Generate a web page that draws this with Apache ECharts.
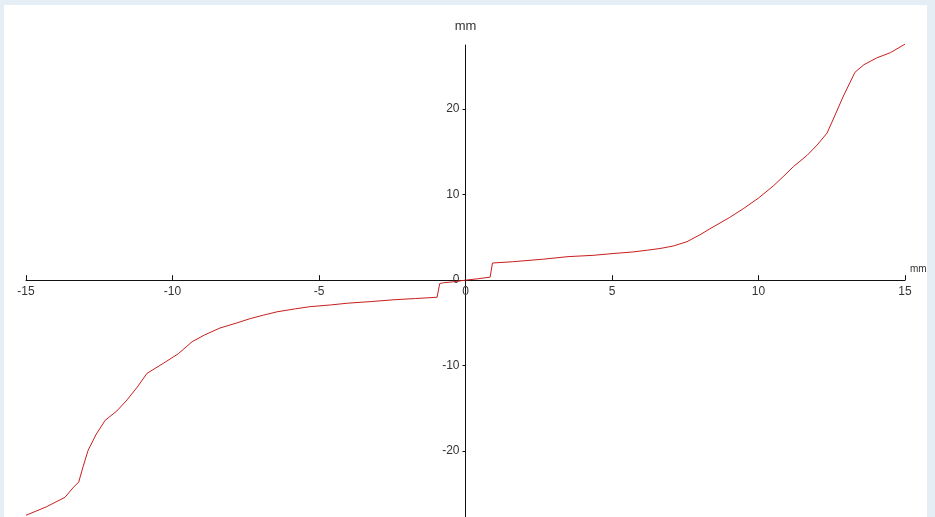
<!DOCTYPE html>
<html>
<head>
<meta charset="utf-8">
<script src="https://cdn.jsdelivr.net/npm/echarts@6/dist/echarts.min.js"></script>
<style>
  html, body { margin: 0; padding: 0; width: 935px; height: 517px; overflow: hidden; background: #e5edf5; }
  #chart { position: absolute; left: 4px; top: 5px; width: 923px; height: 512px; background: #ffffff; }
</style>
</head>
<body>
<div id="chart"></div>
<script>
// Displacement curve, horizontal position (mm) against vertical response (mm)
const xValues = [
  -15.0, -14.3, -13.67, -13.4, -13.2, -13.05, -12.88, -12.6, -12.3, -11.9,
  -11.55, -11.2, -10.87, -10.3, -9.8, -9.33, -8.9, -8.38, -7.8, -7.35,
  -6.9, -6.43, -5.8, -5.3, -4.6, -4.04, -3.2, -2.47, -1.7, -0.97,
  -0.88, -0.75, -0.43, 0.0, 0.4, 0.84, 0.92, 1.6, 2.65, 3.5,
  4.35, 5.0, 5.72, 6.2, 6.64, 7.1, 7.56, 8.0, 8.34, 9.0,
  9.5, 10.0, 10.5, 10.84, 11.2, 11.66, 12.0, 12.34, 12.6, 12.88,
  13.29, 13.6, 14.04, 14.5, 15.0
];
const yValues = [
  -27.5, -26.5, -25.4, -24.3, -23.6, -21.8, -19.9, -18.0, -16.4, -15.3,
  -14.0, -12.5, -10.9, -9.7, -8.6, -7.2, -6.4, -5.6, -5.0, -4.5,
  -4.1, -3.7, -3.35, -3.1, -2.9, -2.7, -2.5, -2.3, -2.15, -2.0,
  -0.4, -0.3, -0.2, 0.0, 0.15, 0.35, 2.0, 2.15, 2.45, 2.75,
  2.9, 3.1, 3.3, 3.5, 3.7, 4.0, 4.5, 5.3, 6.0, 7.3,
  8.4, 9.6, 11.0, 12.1, 13.3, 14.6, 15.8, 17.2, 19.2, 21.4,
  24.3, 25.2, 26.0, 26.6, 27.6
];
const xTickValues = [-15, -10, -5, 0, 5, 10, 15];
const yTickValues = [-20, -10, 0, 10, 20];
const axisUnit = 'mm';

const xMin = -15, xMax = 15;
const yMin = -27.7, yMax = 27.5;
const points = xValues.map((x, i) => [x, yValues[i]]);

// Plot area in container pixels; the axes are shifted so they cross at the origin
const gridLeft = 22, gridWidth = 879, gridTop = 40, gridHeight = 472;
const yAxisShift = -gridWidth * (0 - xMin) / (xMax - xMin);
const xAxisShift = -gridHeight * (0 - yMin) / (yMax - yMin);

const chart = echarts.init(document.getElementById('chart'), null, { renderer: 'canvas' });
const fontFamily = 'Liberation Sans, Arial, sans-serif';
const labelFont = { color: '#333333', fontSize: 12, fontFamily };

chart.setOption({
  animation: false,
  backgroundColor: '#ffffff',
  grid: { left: gridLeft, width: gridWidth, top: gridTop, height: gridHeight, containLabel: false, outerBoundsMode: 'none' },
  xAxis: {
    type: 'value',
    min: xMin,
    max: xMax,
    position: 'bottom',
    offset: xAxisShift,
    name: axisUnit,
    nameLocation: 'end',
    nameGap: 5,
    nameTextStyle: { color: '#333333', fontSize: 10, fontFamily, verticalAlign: 'bottom', padding: [0, 0, 6, 0] },
    axisLine: { onZero: false, lineStyle: { color: '#111111', width: 1 } },
    axisTick: { show: true, inside: true, length: 5, customValues: xTickValues, lineStyle: { color: '#111111' } },
    axisLabel: Object.assign({ margin: 6, customValues: xTickValues, formatter: v => String(v) }, labelFont),
    splitLine: { show: false }
  },
  yAxis: {
    type: 'value',
    min: yMin,
    max: yMax,
    position: 'left',
    offset: yAxisShift,
    name: axisUnit,
    nameLocation: 'end',
    nameGap: 12,
    nameTextStyle: { color: '#333333', fontSize: 13, fontFamily },
    axisLine: { onZero: false, lineStyle: { color: '#111111', width: 1 } },
    axisTick: { show: true, inside: false, length: 3, customValues: yTickValues, lineStyle: { color: '#111111' } },
    axisLabel: Object.assign({ margin: 6, customValues: yTickValues, formatter: v => String(v) }, labelFont),
    splitLine: { show: false }
  },
  series: [{
    type: 'line',
    data: points,
    showSymbol: false,
    smooth: false,
    clip: false,
    lineStyle: { color: '#c81e1e', width: 1 }
  }]
});
</script>
</body>
</html>
